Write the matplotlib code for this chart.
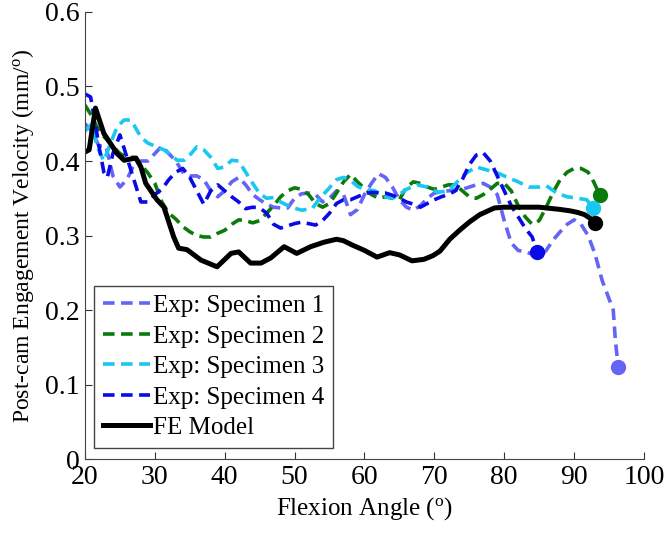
import matplotlib
matplotlib.use("Agg")
import matplotlib.pyplot as plt

plt.rcParams['font.family'] = ['Liberation Serif', 'DejaVu Serif']
plt.rcParams['mathtext.fontset'] = 'custom'
plt.rcParams['mathtext.rm'] = 'Liberation Serif'

# Specimen 1 (exp)
s1_x = [20, 21, 22, 23, 24, 25, 26, 27, 28, 29, 30, 31, 32, 33, 34, 35, 36, 37, 38, 39,
        40, 41, 42, 43, 44, 45, 46, 47, 48, 49, 50, 51, 52, 53, 54, 55, 56, 57, 58, 59,
        60, 61, 62, 63, 64, 65, 66, 67, 68, 69, 70, 72, 74, 76, 77, 78, 79, 80, 81, 82,
        83, 84, 85, 86, 87, 88, 89, 90, 91, 92, 93, 94, 95, 95.6, 95.9, 96.3]
s1_y = [0.45, 0.44, 0.42, 0.42, 0.38, 0.365, 0.375, 0.395, 0.40, 0.40, 0.41, 0.42, 0.41, 0.40,
        0.385, 0.38, 0.38, 0.375, 0.36, 0.352, 0.36, 0.372, 0.378, 0.368, 0.355, 0.348, 0.342,
        0.338, 0.337, 0.337, 0.35, 0.356, 0.357, 0.355, 0.345, 0.35, 0.36, 0.355, 0.328, 0.335,
        0.355, 0.37, 0.383, 0.378, 0.365, 0.348, 0.338, 0.334, 0.34, 0.35, 0.357, 0.36, 0.362,
        0.368, 0.37, 0.365, 0.355, 0.32, 0.29, 0.28, 0.278, 0.275, 0.271, 0.28, 0.294, 0.305,
        0.315, 0.321, 0.315, 0.30, 0.275, 0.24, 0.215, 0.20, 0.16, 0.124]

# Specimen 2 (exp)
s2_x = [20, 21, 22, 23, 24, 25, 26, 27, 28, 29, 30, 31, 32, 33, 34, 35, 36, 37, 38, 39,
        40, 41, 42, 43, 44, 45, 46, 47, 48, 49, 50, 51, 52, 53, 54, 55, 56, 57, 58, 59,
        60, 61, 62, 63, 64, 65, 66, 67, 68, 69, 70, 71, 72, 73, 74, 75, 76, 77, 78, 79,
        80, 81, 82, 83, 84, 85, 86, 87, 88, 89, 90, 91, 92, 92.8, 93.7]
s2_y = [0.475, 0.46, 0.44, 0.43, 0.42, 0.41, 0.405, 0.405, 0.395, 0.384, 0.37, 0.345, 0.33,
        0.322, 0.312, 0.305, 0.30, 0.298, 0.298, 0.303, 0.307, 0.315, 0.321, 0.32, 0.317, 0.32,
        0.33, 0.34, 0.352, 0.36, 0.364, 0.362, 0.355, 0.343, 0.338, 0.343, 0.357, 0.372, 0.382,
        0.372, 0.363, 0.355, 0.35, 0.352, 0.35, 0.348, 0.365, 0.372, 0.37, 0.365, 0.362, 0.365,
        0.368, 0.368, 0.36, 0.352, 0.35, 0.355, 0.362, 0.37, 0.37, 0.36, 0.34, 0.325, 0.315,
        0.32, 0.338, 0.358, 0.375, 0.385, 0.39, 0.39, 0.385, 0.372, 0.354]

# Specimen 3 (exp)
s3_x = [20, 21, 21.7, 22.7, 23.5, 24.6, 25.6, 26.6, 28, 29, 30.3, 31.3, 33.2, 34.2, 35.2, 36,
        37, 38, 39, 40, 41, 42, 43, 44, 45, 46, 47, 48, 49.5, 51, 52.5, 53.6, 54.7, 56, 57,
        58, 59, 60, 61.5, 63, 64, 65, 66, 67.5, 69, 70.5, 72, 73.6, 74.6, 76, 77.5, 79, 80.5,
        82, 83.5, 85, 86, 87.5, 89, 90.5, 91.8, 92.7]
s3_y = [0.44, 0.45, 0.42, 0.40, 0.42, 0.446, 0.455, 0.455, 0.432, 0.424, 0.419, 0.415, 0.401,
        0.401, 0.41, 0.419, 0.415, 0.405, 0.39, 0.392, 0.401, 0.40, 0.385, 0.37, 0.356, 0.35,
        0.351, 0.345, 0.338, 0.334, 0.336, 0.35, 0.361, 0.375, 0.378, 0.374, 0.366, 0.362,
        0.36, 0.352, 0.35, 0.355, 0.362, 0.368, 0.365, 0.358, 0.36, 0.375, 0.384, 0.392,
        0.388, 0.384, 0.378, 0.372, 0.365, 0.365, 0.367, 0.357, 0.352, 0.35, 0.348, 0.337]

# Specimen 4 (exp)
s4_x = [20, 20.8, 21.3, 22, 22.7, 23.2, 24, 25, 26, 27, 28, 29, 30, 31, 32, 33, 34, 35, 36,
        37, 38, 39, 40, 41, 42, 43, 44, 45, 46, 47, 48, 49, 50, 51, 52, 53, 54, 55, 56, 57,
        58, 59, 60, 61, 62, 63, 64, 65, 66, 67, 68, 69, 70, 71, 72, 73, 74, 75, 76, 77, 78,
        79, 80, 81, 82, 83, 84, 84.7]
s4_y = [0.49, 0.486, 0.46, 0.42, 0.385, 0.378, 0.41, 0.435, 0.405, 0.375, 0.345, 0.345, 0.355,
        0.362, 0.375, 0.385, 0.39, 0.378, 0.36, 0.342, 0.36, 0.368, 0.36, 0.352, 0.345, 0.336,
        0.338, 0.337, 0.33, 0.315, 0.31, 0.313, 0.316, 0.318, 0.316, 0.314, 0.32, 0.33, 0.343,
        0.348, 0.348, 0.352, 0.356, 0.358, 0.357, 0.357, 0.354, 0.35, 0.345, 0.342, 0.338,
        0.343, 0.348, 0.352, 0.355, 0.36, 0.375, 0.395, 0.408, 0.411, 0.40, 0.38, 0.36, 0.34,
        0.325, 0.31, 0.298, 0.278]

# FE model
fe_x = [20, 20.6, 21.5, 22.7, 24.6, 25.6, 27.3, 28, 28.7, 30.3, 31.3, 32.7, 33.4, 34.6, 36.6,
        38.9, 40.9, 42, 43.7, 45.2, 46.6, 48.5, 50.3, 52.3, 54.2, 56, 57, 58.3, 60, 61.8, 63.6,
        65, 66.8, 68.5, 69.8, 70.8, 72.2, 73.6, 75, 76.5, 78.6, 80, 82.2, 85, 88, 89.5, 90.5,
        91.5, 92.3, 93]
fe_y = [0.412, 0.415, 0.471, 0.437, 0.41, 0.401, 0.404, 0.392, 0.37, 0.348, 0.338, 0.298, 0.283,
        0.281, 0.267, 0.258, 0.276, 0.278, 0.263, 0.263, 0.27, 0.285, 0.276, 0.285, 0.291, 0.295,
        0.293, 0.287, 0.28, 0.271, 0.277, 0.274, 0.266, 0.268, 0.273, 0.279, 0.295, 0.307, 0.318,
        0.328, 0.337, 0.338, 0.338, 0.338, 0.335, 0.333, 0.331, 0.328, 0.323, 0.317]

labels = ['Exp: Specimen 1', 'Exp: Specimen 2', 'Exp: Specimen 3', 'Exp: Specimen 4', 'FE Model']
colors = ['#6464F5', '#0A7A0A', '#19C8F0', '#0A0AE6', 'black']

x_ticks = [20, 30, 40, 50, 60, 70, 80, 90, 100]
y_ticks = [0, 0.1, 0.2, 0.3, 0.4, 0.5, 0.6]
y_tick_labels = ['0', '0.1', '0.2', '0.3', '0.4', '0.5', '0.6']

fig = plt.figure(figsize=(6.67, 5.33), dpi=100)
ax = fig.add_axes([0.1274, 0.1388, 0.8381, 0.8387])

series = [(s1_x, s1_y), (s2_x, s2_y), (s3_x, s3_y), (s4_x, s4_y)]
for (xs, ys), lab, c in zip(series, labels[:4], colors[:4]):
    ax.plot(xs, ys, color=c, lw=2.6, ls=(0, (3.2, 1.8)), label=lab)
    ax.plot(xs[-1], ys[-1], 'o', color=c, ms=10)
ax.plot(fe_x, fe_y, color='black', lw=3.6, label=labels[4])
ax.plot(fe_x[-1], fe_y[-1], 'o', color='black', ms=10)

ax.set_xlim(20, 100)
ax.set_ylim(0, 0.6)
ax.set_xticks(x_ticks)
ax.set_yticks(y_ticks)
ax.set_yticklabels(y_tick_labels)
ax.tick_params(direction='in', length=5, labelsize=20, color='#333333', pad=4)
for side in ['top', 'right']:
    ax.spines[side].set_visible(False)
for side in ['left', 'bottom']:
    ax.spines[side].set_color('#444444')

ax.set_xlabel(r'Flexion Angle ($\mathregular{^o}$)', fontsize=18, labelpad=4)
ax.set_ylabel(r'Post-cam Engagement Velocity (mm/$\mathregular{^o}$)', fontsize=17, labelpad=6)

leg = ax.legend(loc='lower left', bbox_to_anchor=(0.016, 0.025), borderaxespad=0,
                fontsize=18, handlelength=1.9, handletextpad=0.1, labelspacing=0.32,
                fancybox=False, framealpha=1, edgecolor='#444444', borderpad=0.35)
leg.get_frame().set_linewidth(1.0)

fig.savefig('out.png', dpi=100)
